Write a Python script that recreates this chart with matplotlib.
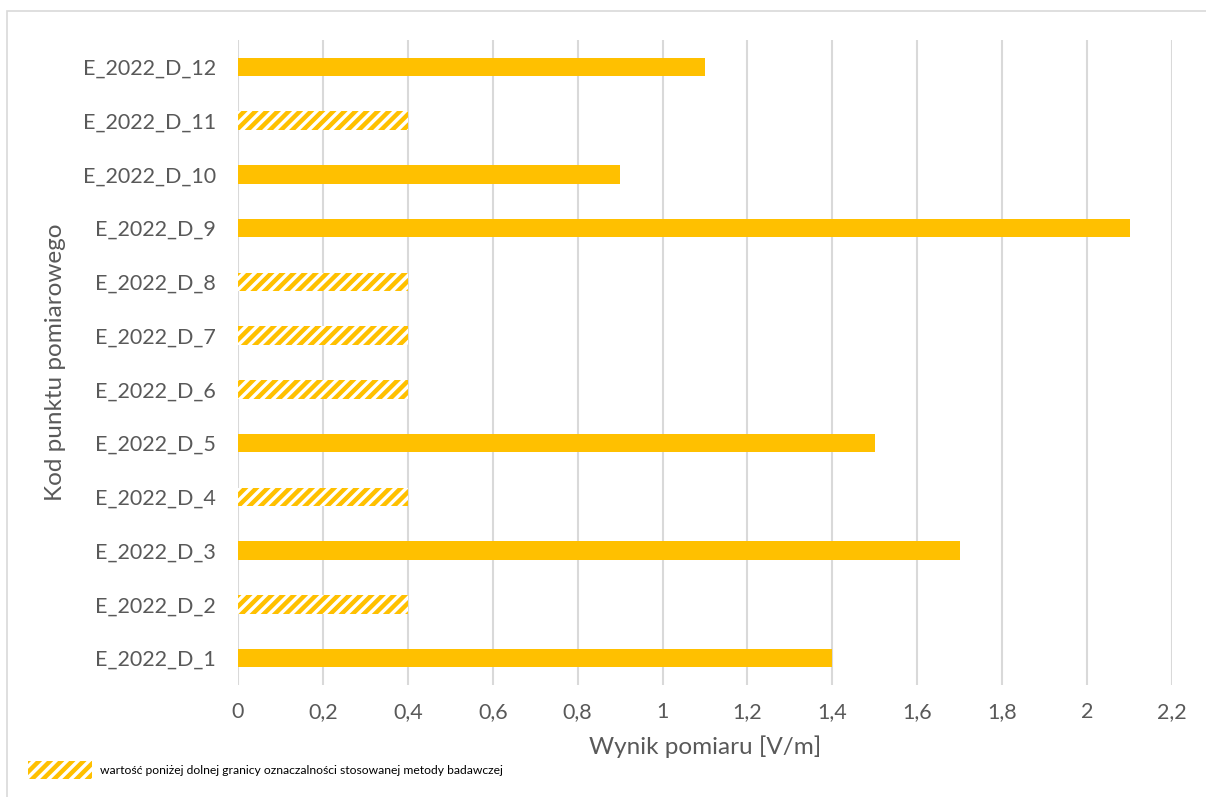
import matplotlib.pyplot as plt
from matplotlib.patches import Rectangle
from matplotlib.ticker import FuncFormatter
import numpy as np

plt.rcParams['font.family'] = ['Lato', 'DejaVu Sans']
plt.rcParams['hatch.linewidth'] = 3.2

points = ['E_2022_D_1', 'E_2022_D_2', 'E_2022_D_3', 'E_2022_D_4', 'E_2022_D_5', 'E_2022_D_6',
          'E_2022_D_7', 'E_2022_D_8', 'E_2022_D_9', 'E_2022_D_10', 'E_2022_D_11', 'E_2022_D_12']
values = [1.4, 0.4, 1.7, 0.4, 1.5, 0.4, 0.4, 0.4, 2.1, 0.9, 0.4, 1.1]
# True = wynik poniżej dolnej granicy oznaczalności
below_lod = [False, True, False, True, False, True, True, True, False, False, True, False]
x_ticks = [0, 0.2, 0.4, 0.6, 0.8, 1.0, 1.2, 1.4, 1.6, 1.8, 2.0, 2.2]

gold = '#FFC000'
grey = '#595959'

fig = plt.figure(figsize=(12.06, 7.97), dpi=100)
ax = fig.add_axes([238 / 1206, 1 - 685 / 797, (1172 - 238) / 1206, (685 - 40) / 797])

y = np.arange(len(points))
for i, (v, h) in enumerate(zip(values, below_lod)):
    if h:
        ax.barh(y[i], v, height=0.34, color='white', edgecolor=gold, hatch='///', linewidth=0, zorder=3)
    else:
        ax.barh(y[i], v, height=0.34, color=gold, linewidth=0, zorder=3)

ax.set_xlim(0, 2.2)
ax.set_ylim(-0.5, len(points) - 0.5)
ax.set_xticks(x_ticks)
ax.xaxis.set_major_formatter(FuncFormatter(lambda v, _: f'{v:g}'.replace('.', ',')))
ax.set_yticks(y)
ax.set_yticklabels(points)
ax.tick_params(axis='both', length=0, labelsize=15.5, colors=grey)
ax.tick_params(axis='x', pad=12)
ax.tick_params(axis='y', pad=16)
ax.grid(axis='x', color='#D9D9D9', linewidth=1.5, zorder=0)
for s in ax.spines.values():
    s.set_visible(False)

ax.set_xlabel('Wynik pomiaru [V/m]', fontsize=17.5, color=grey, labelpad=10)
ax.set_ylabel('Kod punktu pomiarowego', fontsize=17.5, color=grey, labelpad=12)

# ramka obszaru wykresu
fig.patches.append(Rectangle((7 / 1206, -0.1), 1.2, 1 - 11 / 797 + 0.1, transform=fig.transFigure,
                             fill=False, edgecolor='#D9D9D9', linewidth=1.2))

# legenda: wartość poniżej granicy oznaczalności
fig.patches.append(Rectangle((28 / 1206, 1 - 779 / 797), 64 / 1206, 18 / 797, transform=fig.transFigure,
                             facecolor='white', edgecolor=gold, hatch='///', linewidth=0))
fig.text(100 / 1206, 1 - 770 / 797, 'wartość poniżej dolnej granicy oznaczalności stosowanej metody badawczej',
         fontsize=8.7, color='black', va='center', ha='left')

fig.savefig('out.png', dpi=100)
